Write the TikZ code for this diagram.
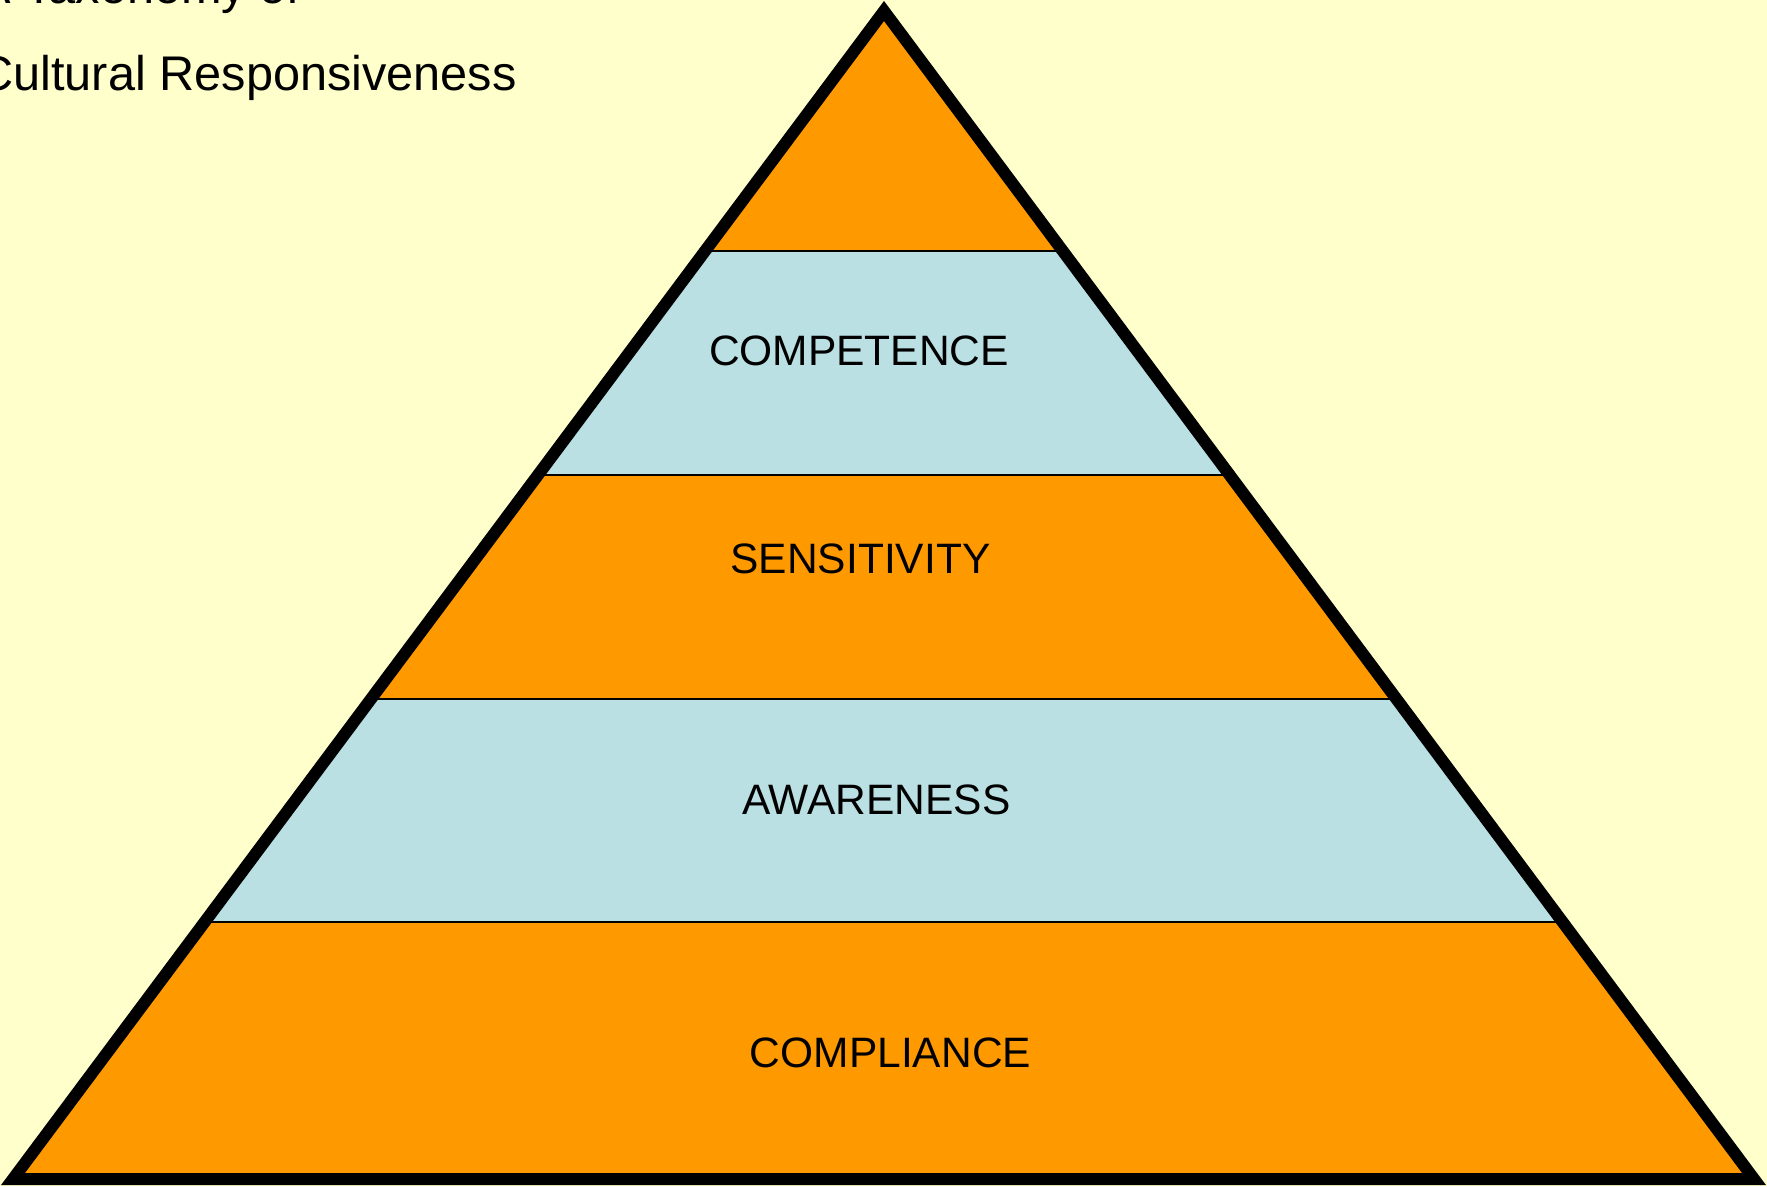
\documentclass[tikz,border=0pt]{standalone}
\usepackage{fontspec}
\setmainfont{Liberation Sans}
\definecolor{bgyellow}{RGB}{255,255,204}
\definecolor{pyrorange}{RGB}{255,153,0}
\definecolor{pyrblue}{RGB}{186,224,228}
\begin{document}
\begin{tikzpicture}[x=0.02cm,y=-0.02cm,
  bandlabel/.style={font=\fontsize{24.2pt}{29pt}\selectfont, inner sep=0pt, anchor=base},
  titletext/.style={font=\fontsize{27.7pt}{33pt}\selectfont, inner sep=0pt, anchor=base west},
  bandline/.style={draw=black, line width=0.04cm},
  outline/.style={draw=black, line width=0.24cm, line join=miter}]
\fill[bgyellow] (0,0) rectangle (1767,1186);
\useasboundingbox (0,0) rectangle (1767,1186);
\coordinate (apex) at (884,11);
\coordinate (bl) at (13,1179);
\coordinate (br) at (1754,1179);
\begin{scope}
  \clip (apex) -- (bl) -- (br) -- cycle;
  \fill[pyrorange] (0,0) rectangle (1767,250.5);
  \fill[pyrblue] (0,250.5) rectangle (1767,474.5);
  \fill[pyrorange] (0,474.5) rectangle (1767,699);
  \fill[pyrblue] (0,699) rectangle (1767,922);
  \fill[pyrorange] (0,922) rectangle (1767,1186);
  \draw[bandline] (0,250.5) -- (1767,250.5);
  \draw[bandline] (0,474.5) -- (1767,474.5);
  \draw[bandline] (0,699) -- (1767,699);
  \draw[bandline] (0,922) -- (1767,922);
\end{scope}
\draw[outline] (apex) -- (bl) -- (br) -- cycle;
\node[bandlabel] (competence) at (859,365.7) {COMPETENCE};
\node[bandlabel] (sensitivity) at (860.5,573.3) {SENSITIVITY};
\node[bandlabel] (awareness) at (876.3,814) {AWARENESS};
\node[bandlabel] (compliance) at (890.5,1067.7) {COMPLIANCE};
\node[titletext] (title1) at (-22,3.5) {A Taxonomy of};
\node[titletext] (title2) at (-22,90.5) {Cultural Responsiveness};
\end{tikzpicture}
\end{document}
